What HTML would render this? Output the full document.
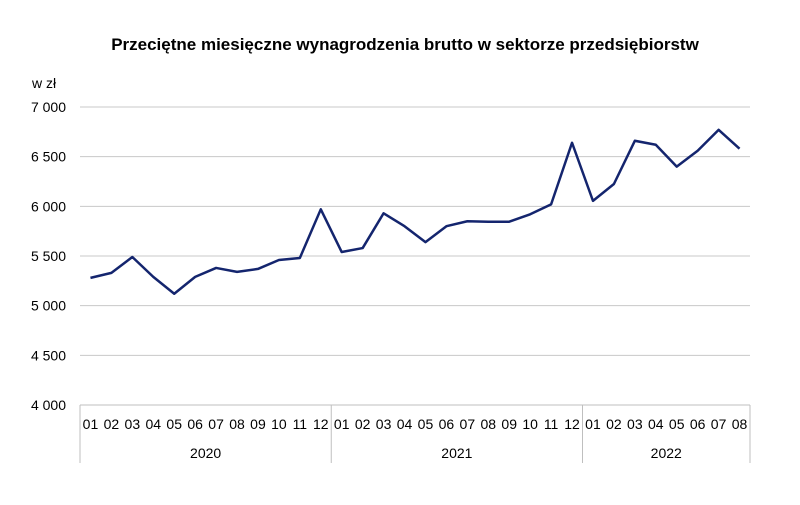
<!DOCTYPE html>
<html><head><meta charset="utf-8"><style>
body{margin:0;background:#fff;width:800px;height:500px;overflow:hidden}
svg text{font-family:"Liberation Sans",sans-serif;fill:#000}
</style></head><body>
<svg id="c" width="800" height="500"></svg>
<script>
const months=["01","02","03","04","05","06","07","08","09","10","11","12","01","02","03","04","05","06","07","08","09","10","11","12","01","02","03","04","05","06","07","08"];
const years=["2020","2021","2022"];
const yearCounts=[12,12,8];
const values=[5280,5330,5490,5290,5120,5290,5380,5340,5370,5460,5480,5970,5540,5580,5930,5800,5640,5800,5850,5845,5845,5920,6020,6640,6055,6225,6660,6620,6400,6560,6770,6580];
const yTicks=[4000,4500,5000,5500,6000,6500,7000];
const yTickLabels=["4 000","4 500","5 000","5 500","6 000","6 500","7 000"];
const svg=document.getElementById('c');const NS='http://www.w3.org/2000/svg';
const L=80,R=750,T=107,B=405,yMin=4000,yMax=7000;
const bw=(R-L)/months.length;
const x=i=>L+bw*(i+0.5);
const y=v=>B-(v-yMin)/(yMax-yMin)*(B-T);
function mk(tag,a,parent){const e=document.createElementNS(NS,tag);for(const k in a)e.setAttribute(k,a[k]);(parent||svg).appendChild(e);return e;}
let t=mk('text',{x:405,y:50,'text-anchor':'middle','font-size':17,'font-weight':'bold'});


t.textContent='Przeciętne miesięczne wynagrodzenia brutto w sektorze przedsiębiorstw';
t=mk('text',{x:32,y:88,'font-size':14});


t.textContent='w zł';
yTicks.forEach((v,i)=>{
 if(i>0){const g=mk('line',{x1:L,x2:R,y1:y(v),y2:y(v),stroke:'#c8c8c8','stroke-width':1});
 
 }
 const l=mk('text',{x:66,y:y(v)+5,'text-anchor':'end','font-size':14});
 
 
 l.textContent=yTickLabels[i];
});
const ax=mk('line',{x1:L,x2:R,y1:B,y2:B,stroke:'#bfbfbf','stroke-width':1});


months.forEach((m,i)=>{const l=mk('text',{x:x(i),y:429,'text-anchor':'middle','font-size':14});
 
 
 l.textContent=m;});
let start=0;
const divs=[L];
years.forEach((yr,j)=>{const n=yearCounts[j];const cx=L+bw*(start+n/2);
 const l=mk('text',{x:cx,y:458,'text-anchor':'middle','font-size':14});
 
 
 l.textContent=yr;start+=n;divs.push(L+bw*start);});
divs.forEach(d=>{const e=mk('line',{x1:d,x2:d,y1:B,y2:463,stroke:'#bfbfbf','stroke-width':1});
 
 });
const p=mk('polyline',{points:values.map((v,i)=>x(i)+','+y(v)).join(' '),fill:'none',stroke:'#14256e','stroke-width':2.5,'stroke-linejoin':'round'});


</script>
</body></html>
